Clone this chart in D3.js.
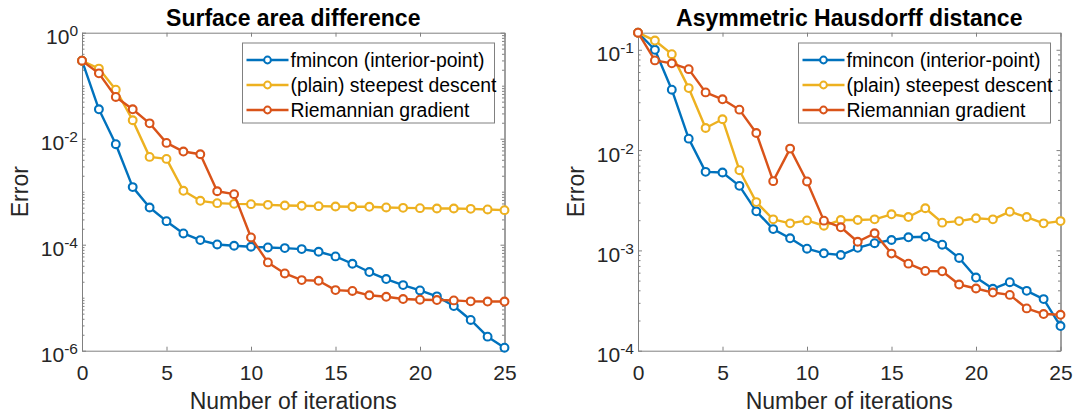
<!DOCTYPE html>
<html><head><meta charset="utf-8">
<script src="https://cdn.jsdelivr.net/npm/d3@7"></script>
<style>
body{margin:0;background:#fff}
svg{display:block}
text{font-family:"Liberation Sans",Arial,Helvetica,sans-serif}
</style>
</head><body>
<svg id="chart" width="1075" height="417"></svg>
<script>
// ---------------- data ----------------
const iterations = [0,1,2,3,4,5,6,7,8,9,10,11,12,13,14,15,16,17,18,19,20,21,22,23,24,25];
const seriesNames = ["fmincon (interior-point)", "(plain) steepest descent", "Riemannian gradient"];
const seriesColors = ["#0072BD", "#EDB120", "#D95319"];
const xTickValues = [0,5,10,15,20,25];

// Surface area difference
const areaFmincon  = [0.296,0.0359,0.00787,0.00122,5.03e-4,2.78e-4,1.63e-4,1.22e-4,1.01e-4,9.55e-5,9.14e-5,8.87e-5,8.62e-5,8.26e-5,7.36e-5,6.01e-5,4.37e-5,3.05e-5,2.25e-5,1.73e-5,1.37e-5,1.06e-5,6.96e-6,3.8e-6,1.84e-6,1.14e-6];
const areaSteepest = [0.296,0.21,0.0843,0.0223,0.00454,0.00416,0.00104,6.73e-4,6.08e-4,5.9e-4,5.82e-4,5.65e-4,5.49e-4,5.42e-4,5.34e-4,5.26e-4,5.19e-4,5.19e-4,5.04e-4,4.96e-4,4.89e-4,4.82e-4,4.82e-4,4.75e-4,4.62e-4,4.49e-4];
const areaRiemann  = [0.296,0.171,0.0613,0.0359,0.0195,0.00833,0.00572,0.00509,0.00102,8.98e-4,1.37e-4,4.63e-5,2.87e-5,2.15e-5,2.09e-5,1.39e-5,1.34e-5,1.11e-5,1.04e-5,9.44e-6,9.17e-6,9.03e-6,8.9e-6,8.53e-6,8.46e-6,8.46e-6];
const areaYTickExponents = [0,-2,-4,-6];

// Asymmetric Hausdorff distance
const hausFmincon  = [0.148,0.1,0.04,0.013,0.00607,0.00598,0.0044,0.00245,0.00163,0.00132,0.00104,9.35e-4,9.0e-4,0.00106,0.00118,0.00127,0.00135,0.00137,0.00114,8.41e-4,5.36e-4,4.14e-4,4.82e-4,3.95e-4,3.27e-4,1.76e-4];
const hausSteepest = [0.148,0.1236,0.0905,0.0415,0.0166,0.0203,0.0063,0.00303,0.00204,0.00186,0.00199,0.00176,0.00201,0.00201,0.00204,0.00229,0.00215,0.00263,0.00189,0.00196,0.00209,0.00204,0.00243,0.00215,0.00186,0.00196];
const hausRiemann  = [0.148,0.0784,0.0732,0.0641,0.0376,0.0321,0.0253,0.0148,0.0049,0.01035,0.00487,0.00198,0.0017,0.00122,0.00148,9.29e-4,7.38e-4,6.24e-4,6.19e-4,4.57e-4,4.17e-4,3.8e-4,3.6e-4,2.64e-4,2.32e-4,2.28e-4];
const hausYTickExponents = [-1,-2,-3,-4];

// ---------------- layout ----------------
const panels = [
  {title:"Surface area difference", series:[areaFmincon, areaSteepest, areaRiemann],
   yDomain:[1e-6, 1], yExps:areaYTickExponents, x0:82, x1:504.5, legendX:242.5},
  {title:"Asymmetric Hausdorff distance", series:[hausFmincon, hausSteepest, hausRiemann],
   yDomain:[1e-4, 0.148], yExps:hausYTickExponents, x0:638, x1:1060.5, legendX:798.5}
];
const plotTop = 32.7, plotBottom = 350.7;
const axisColor = "#808080", textColor = "#262626";
const tickFont = 21;

const svg = d3.select("#chart");

panels.forEach(p => {
  const x = d3.scaleLinear().domain([0, 25]).range([p.x0, p.x1]);
  const y = d3.scaleLog().domain(p.yDomain).range([plotBottom, plotTop]);
  const g = svg.append("g");

  const majors = p.yExps.map(e => Math.pow(10, e));
  const minors = y.ticks().filter(v => !majors.some(m => Math.abs(Math.log10(v) - Math.log10(m)) < 1e-6))
                          .filter(v => v >= p.yDomain[0] && v <= p.yDomain[1]);

  const xb = g.append("g").attr("transform", `translate(0,${plotBottom})`)
    .call(d3.axisBottom(x).tickValues(xTickValues).tickSizeInner(-4).tickSizeOuter(0).tickPadding(14.5));
  const xt = g.append("g").attr("transform", `translate(0,${plotTop})`)
    .call(d3.axisTop(x).tickValues(xTickValues).tickSizeInner(-4).tickSizeOuter(0).tickFormat(""));
  const yl = g.append("g").attr("transform", `translate(${p.x0},0)`)
    .call(d3.axisLeft(y).tickValues(majors).tickSizeInner(-4).tickSizeOuter(0).tickFormat(""));
  const ylm = g.append("g").attr("transform", `translate(${p.x0},0)`)
    .call(d3.axisLeft(y).tickValues(minors).tickSizeInner(-2.5).tickSizeOuter(0).tickFormat(""));
  const yr = g.append("g").attr("transform", `translate(${p.x1},0)`)
    .call(d3.axisRight(y).tickValues(majors).tickSizeInner(-4).tickSizeOuter(0).tickFormat(""));
  const yrm = g.append("g").attr("transform", `translate(${p.x1},0)`)
    .call(d3.axisRight(y).tickValues(minors).tickSizeInner(-2.5).tickSizeOuter(0).tickFormat(""));

  [xb, xt, yl, ylm, yr, yrm].forEach(a => {
    a.selectAll("path.domain").attr("stroke", axisColor).attr("stroke-width", 1);
    a.selectAll(".tick line").attr("stroke", axisColor).attr("stroke-width", 1);
  });
  xb.selectAll(".tick text").attr("font-size", tickFont).attr("fill", textColor)
    .attr("font-family", '"Liberation Sans",Arial,sans-serif');

  p.yExps.forEach(e => {
    const t = g.append("text")
      .attr("x", p.x0 - 4).attr("y", y(Math.pow(10, e)) + 11.5)
      .attr("text-anchor", "end").attr("fill", textColor).attr("font-size", tickFont);
    t.append("tspan").text("10");
    t.append("tspan").attr("dy", -8).attr("font-size", 15.5).text(String(e));
  });

  g.append("text").attr("x", (p.x0 + p.x1) / 2).attr("y", 25.5)
    .attr("text-anchor", "middle").attr("font-size", 23).attr("font-weight", "bold")
    .attr("fill", "#000").text(p.title);
  g.append("text").attr("x", (p.x0 + p.x1) / 2).attr("y", 409)
    .attr("text-anchor", "middle").attr("font-size", 23).attr("fill", textColor)
    .text("Number of iterations");
  g.append("text")
    .attr("transform", `translate(${p.x0 - 54},${(plotTop + plotBottom) / 2}) rotate(-90)`)
    .attr("text-anchor", "middle").attr("font-size", 23).attr("fill", textColor)
    .text("Error");

  const line = d3.line().x((d, i) => x(iterations[i])).y(d => y(d));
  p.series.forEach((s, k) => {
    const sg = g.append("g");
    sg.append("path").datum(s).attr("d", line)
      .attr("fill", "none").attr("stroke", seriesColors[k]).attr("stroke-width", 2.4)
      .attr("stroke-linejoin", "round");
    sg.selectAll("circle").data(s).join("circle")
      .attr("cx", (d, i) => x(iterations[i])).attr("cy", d => y(d)).attr("r", 3.9)
      .attr("fill", "#fff").attr("stroke", seriesColors[k]).attr("stroke-width", 2.1);
  });

  const lg = g.append("g").attr("transform", `translate(${p.legendX},43)`);
  lg.append("rect").attr("x", 0).attr("y", 0).attr("width", 252).attr("height", 80)
    .attr("fill", "#fff").attr("stroke", axisColor).attr("stroke-width", 1);
  seriesNames.forEach((name, k) => {
    const ry = 17 + k * 25;
    lg.append("line").attr("x1", 4).attr("x2", 46).attr("y1", ry).attr("y2", ry)
      .attr("stroke", seriesColors[k]).attr("stroke-width", 2.4);
    lg.append("circle").attr("cx", 25).attr("cy", ry).attr("r", 3.4)
      .attr("fill", "#fff").attr("stroke", seriesColors[k]).attr("stroke-width", 2);
    lg.append("text").attr("x", 48).attr("y", ry).attr("dy", "0.35em")
      .attr("font-size", 19.4).attr("fill", "#000").text(name);
  });
});
</script>
</body></html>
